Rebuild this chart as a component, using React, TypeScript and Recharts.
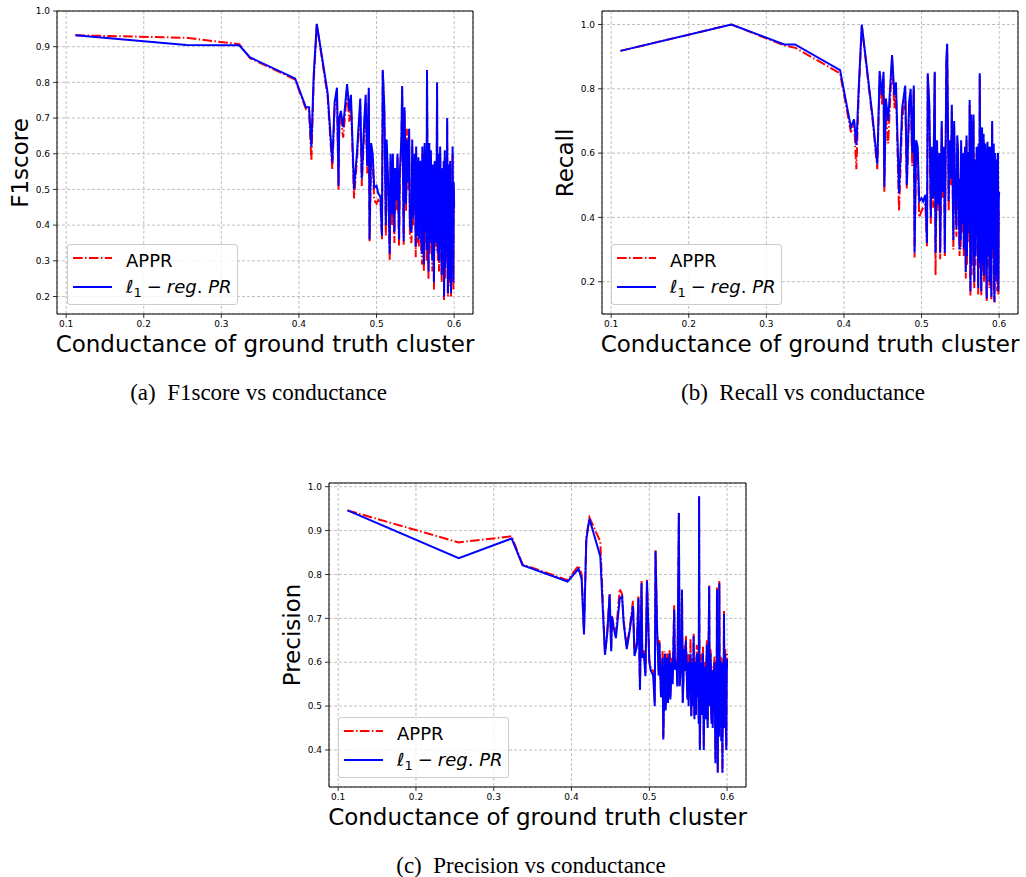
import React from 'react';
import { CartesianGrid, Legend, Line, LineChart, ReferenceArea, XAxis, YAxis } from 'recharts';

// conductance of each ground truth cluster (same clusters in all three panels)
const conductance = [
  0.112, 0.255, 0.323, 0.337, 0.395, 0.409, 0.413, 0.416, 0.419, 0.423, 0.437,
  0.443, 0.446, 0.449, 0.451, 0.452, 0.454, 0.457, 0.462, 0.465, 0.467, 0.471, 0.475,
  0.479, 0.481, 0.484, 0.486, 0.488, 0.49, 0.491, 0.493, 0.495, 0.497, 0.5,
  0.502, 0.505, 0.507, 0.508, 0.51, 0.512, 0.513, 0.515, 0.517, 0.518,
  0.52, 0.521, 0.523, 0.524, 0.526, 0.527, 0.529, 0.53, 0.532, 0.533,
  0.535, 0.536, 0.538, 0.539, 0.541, 0.542, 0.543, 0.545, 0.546, 0.547,
  0.549, 0.55, 0.5505, 0.551, 0.552, 0.553, 0.5535, 0.554,
  0.5545, 0.555, 0.556, 0.557, 0.5575, 0.558, 0.5585, 0.559,
  0.56, 0.561, 0.5615, 0.562, 0.5625, 0.563, 0.5635, 0.564,
  0.5645, 0.565, 0.566, 0.567, 0.5675, 0.568, 0.5685, 0.569,
  0.5695, 0.57, 0.571, 0.572, 0.5725, 0.573, 0.5735, 0.574,
  0.5745, 0.575, 0.576, 0.577, 0.5775, 0.578, 0.5785, 0.579,
  0.5795, 0.58, 0.5805, 0.581, 0.5815, 0.582, 0.583, 0.584,
  0.5845, 0.585, 0.5855, 0.586, 0.5865, 0.587, 0.5875, 0.588,
  0.5885, 0.589, 0.5895, 0.59, 0.5905, 0.591, 0.5915, 0.592,
  0.5925, 0.593, 0.5935, 0.594, 0.5945, 0.595, 0.5955, 0.596,
  0.5965, 0.597, 0.5975, 0.598, 0.5985, 0.599, 0.5995, 0.6,
];

const f1Appr = [
  0.932, 0.925, 0.907, 0.868, 0.808, 0.725, 0.72, 0.58, 0.8, 0.962, 0.76,
  0.555, 0.73, 0.77, 0.5, 0.69, 0.7, 0.645, 0.775, 0.69, 0.745, 0.475, 0.59,
  0.735, 0.51, 0.66, 0.745, 0.545, 0.77, 0.355, 0.6, 0.575, 0.47, 0.46,
  0.47, 0.46, 0.36, 0.83, 0.72, 0.37, 0.62, 0.5, 0.3, 0.58,
  0.4, 0.58, 0.35, 0.54, 0.44, 0.59, 0.34, 0.53, 0.62, 0.78,
  0.345, 0.72, 0.44, 0.67, 0.5, 0.65, 0.37, 0.35, 0.62, 0.4,
  0.58, 0.42, 0.31, 0.6, 0.41, 0.35, 0.53, 0.57,
  0.34, 0.42, 0.56, 0.55, 0.32, 0.45, 0.29, 0.6,
  0.4, 0.27, 0.54, 0.61, 0.35, 0.37, 0.56, 0.58,
  0.3, 0.83, 0.42, 0.25, 0.54, 0.61, 0.32, 0.35,
  0.53, 0.59, 0.37, 0.27, 0.55, 0.53, 0.33, 0.22,
  0.48, 0.56, 0.39, 0.33, 0.53, 0.79, 0.37, 0.3,
  0.55, 0.58, 0.27, 0.37, 0.54, 0.6, 0.35, 0.24,
  0.5, 0.54, 0.33, 0.27, 0.56, 0.19, 0.44, 0.59,
  0.25, 0.3, 0.54, 0.56, 0.32, 0.69, 0.37, 0.2,
  0.55, 0.54, 0.23, 0.25, 0.53, 0.56, 0.27, 0.2,
  0.48, 0.5, 0.27, 0.6, 0.37, 0.22, 0.5, 0.43,
];
const f1L1 = [
  0.932, 0.905, 0.904, 0.87, 0.811, 0.73, 0.73, 0.62, 0.82, 0.964, 0.77,
  0.575, 0.745, 0.785, 0.51, 0.7, 0.72, 0.675, 0.795, 0.72, 0.765, 0.5, 0.61,
  0.755, 0.53, 0.685, 0.765, 0.565, 0.785, 0.36, 0.63, 0.6, 0.505, 0.51,
  0.49, 0.48, 0.37, 0.835, 0.73, 0.4, 0.64, 0.52, 0.32, 0.6,
  0.43, 0.6, 0.38, 0.56, 0.47, 0.6, 0.36, 0.55, 0.64, 0.79,
  0.355, 0.73, 0.46, 0.64, 0.52, 0.67, 0.4, 0.38, 0.64, 0.42,
  0.6, 0.45, 0.34, 0.62, 0.44, 0.37, 0.55, 0.59,
  0.36, 0.45, 0.58, 0.57, 0.35, 0.48, 0.32, 0.62,
  0.42, 0.29, 0.56, 0.63, 0.38, 0.4, 0.58, 0.6,
  0.33, 0.835, 0.45, 0.27, 0.56, 0.63, 0.35, 0.38,
  0.55, 0.61, 0.4, 0.3, 0.57, 0.55, 0.36, 0.24,
  0.5, 0.58, 0.42, 0.35, 0.55, 0.8, 0.4, 0.32,
  0.57, 0.6, 0.3, 0.4, 0.56, 0.62, 0.38, 0.26,
  0.52, 0.56, 0.36, 0.3, 0.58, 0.2, 0.47, 0.61,
  0.28, 0.33, 0.56, 0.58, 0.35, 0.7, 0.4, 0.21,
  0.57, 0.56, 0.25, 0.28, 0.55, 0.58, 0.3, 0.21,
  0.5, 0.52, 0.3, 0.62, 0.4, 0.24, 0.52, 0.45,
];

const recallAppr = [
  0.918, 1.0, 0.935, 0.928, 0.848, 0.665, 0.7, 0.55, 0.78, 0.995, 0.7,
  0.55, 0.84, 0.75, 0.84, 0.48, 0.72, 0.63, 0.89, 0.74, 0.8, 0.42, 0.7,
  0.79, 0.49, 0.72, 0.78, 0.56, 0.8, 0.275, 0.6, 0.58, 0.4, 0.42,
  0.43, 0.44, 0.31, 0.84, 0.73, 0.38, 0.6, 0.43, 0.85, 0.22,
  0.62, 0.42, 0.58, 0.27, 0.68, 0.46, 0.6, 0.28, 0.88, 0.935,
  0.42, 0.62, 0.5, 0.73, 0.3, 0.68, 0.5, 0.34, 0.63, 0.58,
  0.28, 0.5, 0.3, 0.62, 0.38, 0.35, 0.56, 0.57,
  0.28, 0.45, 0.6, 0.21, 0.52, 0.64, 0.25, 0.42,
  0.58, 0.58, 0.32, 0.75, 0.42, 0.155, 0.58, 0.7,
  0.22, 0.37, 0.6, 0.7, 0.27, 0.18, 0.55, 0.55,
  0.25, 0.32, 0.6, 0.58, 0.37, 0.16, 0.61, 0.53,
  0.24, 0.84, 0.32, 0.155, 0.58, 0.66, 0.22, 0.27,
  0.53, 0.64, 0.2, 0.37, 0.6, 0.61, 0.27, 0.14,
  0.56, 0.62, 0.3, 0.25, 0.6, 0.58, 0.18, 0.32,
  0.56, 0.6, 0.22, 0.145, 0.53, 0.69, 0.29, 0.27,
  0.6, 0.61, 0.18, 0.135, 0.56, 0.58, 0.2, 0.22,
  0.52, 0.56, 0.17, 0.45, 0.58, 0.16, 0.42, 0.38,
];
const recallL1 = [
  0.918, 1.0, 0.938, 0.938, 0.858, 0.68, 0.705, 0.625, 0.8, 1.0, 0.71,
  0.565, 0.855, 0.78, 0.853, 0.495, 0.77, 0.7, 0.905, 0.78, 0.82, 0.475, 0.74,
  0.81, 0.5, 0.76, 0.8, 0.6, 0.81, 0.29, 0.64, 0.62, 0.45, 0.46,
  0.45, 0.47, 0.32, 0.848, 0.75, 0.4, 0.62, 0.46, 0.853, 0.29,
  0.64, 0.44, 0.6, 0.29, 0.7, 0.48, 0.62, 0.29, 0.89, 0.94,
  0.45, 0.64, 0.52, 0.75, 0.33, 0.7, 0.53, 0.365, 0.655, 0.61,
  0.3, 0.52, 0.33, 0.64, 0.42, 0.38, 0.58, 0.6,
  0.3, 0.48, 0.62, 0.23, 0.55, 0.655, 0.28, 0.45,
  0.6, 0.6, 0.35, 0.765, 0.45, 0.17, 0.6, 0.72,
  0.25, 0.4, 0.62, 0.72, 0.3, 0.2, 0.58, 0.57,
  0.28, 0.35, 0.62, 0.6, 0.4, 0.18, 0.63, 0.55,
  0.26, 0.848, 0.35, 0.17, 0.6, 0.68, 0.25, 0.3,
  0.55, 0.66, 0.22, 0.4, 0.62, 0.63, 0.3, 0.148,
  0.58, 0.635, 0.33, 0.28, 0.62, 0.6, 0.2, 0.35,
  0.58, 0.62, 0.24, 0.153, 0.55, 0.7, 0.32, 0.3,
  0.62, 0.63, 0.2, 0.138, 0.58, 0.6, 0.22, 0.25,
  0.55, 0.58, 0.2, 0.47, 0.6, 0.17, 0.45, 0.48,
];

const precisionAppr = [
  0.946, 0.873, 0.887, 0.823, 0.787, 0.82, 0.8, 0.67, 0.885, 0.93, 0.875,
  0.62, 0.67, 0.755, 0.63, 0.705, 0.685, 0.665, 0.767, 0.755, 0.695, 0.635, 0.68,
  0.74, 0.62, 0.645, 0.75, 0.54, 0.785, 0.62, 0.63, 0.575, 0.788, 0.605,
  0.585, 0.58, 0.51, 0.855, 0.68, 0.58, 0.65, 0.53, 0.625, 0.43,
  0.625, 0.5, 0.62, 0.51, 0.63, 0.52, 0.61, 0.56, 0.73, 0.59,
  0.61, 0.55, 0.94, 0.55, 0.62, 0.765, 0.51, 0.64, 0.59, 0.66,
  0.52, 0.62, 0.51, 0.56, 0.59, 0.655, 0.54, 0.48,
  0.61, 0.59, 0.51, 0.665, 0.53, 0.48, 0.59, 0.61,
  0.49, 0.64, 0.56, 0.53, 0.62, 0.62, 0.47, 0.978,
  0.56, 0.41, 0.59, 0.62, 0.51, 0.49, 0.61, 0.635,
  0.53, 0.41, 0.59, 0.6, 0.48, 0.56, 0.61, 0.65,
  0.53, 0.46, 0.61, 0.775, 0.55, 0.51, 0.63, 0.62,
  0.5, 0.47, 0.59, 0.585, 0.46, 0.53, 0.59, 0.615,
  0.49, 0.38, 0.58, 0.56, 0.45, 0.77, 0.53, 0.35,
  0.61, 0.57, 0.44, 0.785, 0.51, 0.46, 0.61, 0.61,
  0.43, 0.51, 0.6, 0.35, 0.59, 0.61, 0.46, 0.717,
  0.53, 0.46, 0.63, 0.525, 0.45, 0.41, 0.58, 0.625,
];
const precisionL1 = [
  0.946, 0.837, 0.882, 0.821, 0.784, 0.813, 0.79, 0.663, 0.879, 0.927, 0.841,
  0.617, 0.667, 0.754, 0.625, 0.704, 0.68, 0.655, 0.745, 0.75, 0.69, 0.63, 0.675,
  0.728, 0.614, 0.636, 0.746, 0.537, 0.78, 0.61, 0.62, 0.568, 0.785, 0.6,
  0.58, 0.57, 0.5, 0.853, 0.674, 0.57, 0.644, 0.52, 0.61, 0.424,
  0.62, 0.49, 0.61, 0.507, 0.62, 0.515, 0.6, 0.55, 0.72, 0.583,
  0.6, 0.545, 0.94, 0.545, 0.6, 0.765, 0.507, 0.63, 0.58, 0.65,
  0.515, 0.6, 0.5, 0.55, 0.58, 0.62, 0.53, 0.477,
  0.6, 0.58, 0.5, 0.66, 0.52, 0.47, 0.58, 0.6,
  0.48, 0.62, 0.55, 0.52, 0.61, 0.6, 0.46, 0.978,
  0.55, 0.4, 0.58, 0.6, 0.5, 0.48, 0.6, 0.62,
  0.52, 0.4, 0.58, 0.59, 0.47, 0.55, 0.6, 0.64,
  0.52, 0.45, 0.6, 0.773, 0.54, 0.5, 0.62, 0.6,
  0.49, 0.46, 0.58, 0.57, 0.45, 0.52, 0.58, 0.6,
  0.48, 0.37, 0.57, 0.55, 0.44, 0.765, 0.52, 0.348,
  0.6, 0.56, 0.43, 0.78, 0.5, 0.45, 0.6, 0.6,
  0.42, 0.5, 0.59, 0.348, 0.58, 0.6, 0.45, 0.71,
  0.52, 0.45, 0.62, 0.515, 0.44, 0.4, 0.57, 0.606,
];

const xTicks = [0.1, 0.2, 0.3, 0.4, 0.5, 0.6];
const f1Ticks = [0.2, 0.3, 0.4, 0.5, 0.6, 0.7, 0.8, 0.9, 1.0];
const recallTicks = [0.2, 0.4, 0.6, 0.8, 1.0];
const precisionTicks = [0.4, 0.5, 0.6, 0.7, 0.8, 0.9, 1.0];

const X_DOMAIN: [number, number] = [0.0882, 0.6243];
const DASH_DOT = '9.6 2.4 1.5 2.4';

const tickStyle = { fontSize: 9, fill: '#000', fontFamily: 'DejaVu Sans' };
const fmt = (v: number) => v.toFixed(1);

const renderLegend = () => (
  <div
    style={{
      width: 171,
      height: 61,
      boxSizing: 'border-box',
      border: '1px solid #cccccc',
      borderRadius: 3,
      background: 'rgba(255,255,255,0.8)',
      position: 'relative',
      fontFamily: 'DejaVu Sans',
      fontSize: 18,
      lineHeight: '18px',
      color: '#000',
    }}
  >
    <svg width={50} height={59} style={{ position: 'absolute', left: 0, top: 0 }}>
      <line x1={5} x2={44} y1={13} y2={13} stroke="#ff0000" strokeWidth={2} strokeDasharray={DASH_DOT} />
      <line x1={5} x2={44} y1={42} y2={42} stroke="#0000ff" strokeWidth={2} />
    </svg>
    <span style={{ position: 'absolute', left: 58, top: 6.5, whiteSpace: 'nowrap' }}>APPR</span>
    <span style={{ position: 'absolute', left: 58, top: 32.5, whiteSpace: 'nowrap' }}>
      <i>ℓ</i>
      <span style={{ fontSize: 13, position: 'relative', top: 4 }}>1</span>
      <span style={{ margin: '0 5px' }}>−</span>
      <i>reg</i>.<i> PR</i>
    </span>
  </div>
);

interface PanelProps {
  left: number;
  top: number;
  width: number;
  height: number;
  margin: { top: number; right: number; bottom: number; left: number };
  yAxisWidth: number;
  yDomain: [number, number];
  yTicks: number[];
  appr: number[];
  l1: number[];
  yLabel: string;
  yLabelAt: [number, number];
  xLabelAt: [number, number];
  legendAt: [number, number];
}

function Panel(p: PanelProps) {
  const rows = conductance.map((x, i) => ({ x, appr: p.appr[i], l1: p.l1[i] }));
  return (
    <div style={{ position: 'absolute', left: p.left, top: p.top, width: p.width, height: p.height }}>
      <LineChart width={p.width} height={p.height} data={rows} margin={p.margin}>
        <CartesianGrid stroke="#b0b0b0" strokeDasharray="3 2" strokeWidth={0.8} />
        <XAxis
          dataKey="x"
          type="number"
          domain={X_DOMAIN}
          ticks={xTicks}
          interval={0}
          allowDataOverflow
          axisLine={false}
          tickSize={4}
          tickMargin={3}
          tickLine={{ stroke: '#000', strokeWidth: 0.8 }}
          tick={tickStyle}
          tickFormatter={fmt}
          height={16}
        />
        <YAxis
          type="number"
          domain={p.yDomain}
          ticks={p.yTicks}
          interval={0}
          allowDataOverflow
          axisLine={false}
          tickSize={4}
          tickMargin={3}
          tickLine={{ stroke: '#000', strokeWidth: 0.8 }}
          tick={tickStyle}
          tickFormatter={fmt}
          width={p.yAxisWidth}
        />
        <Line
          type="linear"
          dataKey="appr"
          name="APPR"
          stroke="#ff0000"
          strokeWidth={2}
          strokeDasharray={DASH_DOT}
          dot={false}
          isAnimationActive={false}
        />
        <Line
          type="linear"
          dataKey="l1"
          name="l1-reg. PR"
          stroke="#0000ff"
          strokeWidth={2}
          dot={false}
          isAnimationActive={false}
        />
        <ReferenceArea
          x1={X_DOMAIN[0]}
          x2={X_DOMAIN[1]}
          y1={p.yDomain[0]}
          y2={p.yDomain[1]}
          fill="none"
          fillOpacity={0}
          stroke="#000"
          strokeWidth={1}
          ifOverflow="visible"
        />
        <Legend
          content={renderLegend}
          layout="horizontal"
          verticalAlign="middle"
          align="center"
          wrapperStyle={{ left: p.legendAt[0], top: p.legendAt[1], width: 171, height: 61 }}
        />
      </LineChart>
      <div
        style={{
          position: 'absolute',
          left: p.xLabelAt[0],
          top: p.xLabelAt[1],
          transform: 'translateX(-50%)',
          whiteSpace: 'nowrap',
          fontSize: 23,
          lineHeight: '23px',
        }}
      >
        Conductance of ground truth cluster
      </div>
      <div
        style={{
          position: 'absolute',
          left: p.yLabelAt[0],
          top: p.yLabelAt[1],
          transform: 'translate(-50%, -50%) rotate(-90deg)',
          whiteSpace: 'nowrap',
          fontSize: 23,
          lineHeight: '23px',
        }}
      >
        {p.yLabel}
      </div>
    </div>
  );
}

const captionStyle: React.CSSProperties = {
  position: 'absolute',
  transform: 'translateX(-50%)',
  whiteSpace: 'nowrap',
  fontFamily: 'Liberation Serif',
  fontSize: 23,
  lineHeight: '23px',
  color: '#000',
};

export default function App() {
  return (
    <div
      style={{
        position: 'absolute',
        left: 0,
        top: 0,
        width: 1026,
        height: 877,
        background: '#fff',
        fontFamily: 'DejaVu Sans',
        overflow: 'hidden',
      }}
    >
      <Panel
        left={0}
        top={0}
        width={490}
        height={330}
        margin={{ top: 11, right: 17, bottom: 0, left: 0 }}
        yAxisWidth={57}
        yDomain={[0.151, 1.0]}
        yTicks={f1Ticks}
        appr={f1Appr}
        l1={f1L1}
        yLabel="F1score"
        yLabelAt={[20, 162.5]}
        xLabelAt={[265, 333]}
        legendAt={[67, 244]}
      />
      <Panel
        left={540}
        top={0}
        width={486}
        height={330}
        margin={{ top: 11, right: 8, bottom: 0, left: 0 }}
        yAxisWidth={62}
        yDomain={[0.0995, 1.042]}
        yTicks={recallTicks}
        appr={recallAppr}
        l1={recallL1}
        yLabel="Recall"
        yLabelAt={[25, 162.5]}
        xLabelAt={[270, 333]}
        legendAt={[71, 244]}
      />
      <Panel
        left={270}
        top={470}
        width={490}
        height={334}
        margin={{ top: 13, right: 14, bottom: 1, left: 0 }}
        yAxisWidth={59}
        yDomain={[0.3157, 1.0084]}
        yTicks={precisionTicks}
        appr={precisionAppr}
        l1={precisionL1}
        yLabel="Precision"
        yLabelAt={[22, 165]}
        xLabelAt={[267.5, 335.6]}
        legendAt={[68, 247]}
      />
      <div style={{ ...captionStyle, left: 258.5, top: 381 }}>(a)&ensp;F1score vs conductance</div>
      <div style={{ ...captionStyle, left: 803, top: 381 }}>(b)&ensp;Recall vs conductance</div>
      <div style={{ ...captionStyle, left: 531, top: 854 }}>(c)&ensp;Precision vs conductance</div>
    </div>
  );
}
